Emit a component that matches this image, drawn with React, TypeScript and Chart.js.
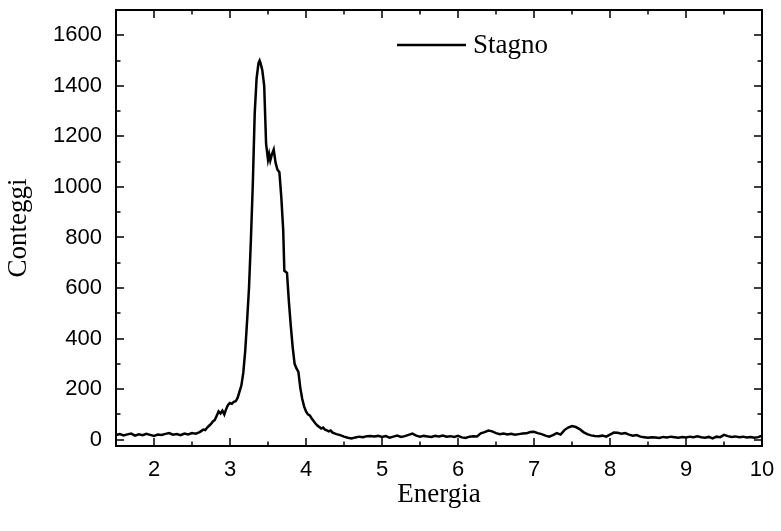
import React, { useEffect, useRef } from 'react';
import { Chart, registerables } from 'chart.js';

Chart.register(...registerables);

const seriesLabel = 'Stagno';
const xTitle = 'Energia';
const yTitle = 'Conteggi';

const xTicks = [2, 3, 4, 5, 6, 7, 8, 9, 10];
const xMinorTicks = [1.5, 2.5, 3.5, 4.5, 5.5, 6.5, 7.5, 8.5, 9.5];
const yTicks = [0, 200, 400, 600, 800, 1000, 1200, 1400, 1600];
const yMinorTicks = [100, 300, 500, 700, 900, 1100, 1300, 1500];

const energy = [
  1.5, 1.55, 1.6, 1.65, 1.7, 1.75, 1.8, 1.85, 1.9, 1.95,
  2.0, 2.05, 2.1, 2.15, 2.2, 2.25, 2.3, 2.35, 2.4, 2.45,
  2.5, 2.55,
  2.6, 2.625, 2.65, 2.675, 2.7, 2.725, 2.75, 2.775, 2.8, 2.825,
  2.85, 2.875, 2.9, 2.925, 2.95, 2.975, 3.0, 3.025, 3.05, 3.075,
  3.1, 3.125, 3.15, 3.175, 3.2, 3.225, 3.25, 3.275, 3.3, 3.325,
  3.35, 3.375, 3.39, 3.4, 3.425, 3.45, 3.475, 3.5, 3.515, 3.53,
  3.55, 3.575, 3.6, 3.625, 3.65, 3.675, 3.7, 3.715, 3.75, 3.775,
  3.8, 3.825, 3.85, 3.875, 3.9, 3.925, 3.95, 3.975, 4.0, 4.025,
  4.05, 4.075, 4.1, 4.125, 4.15, 4.175, 4.2, 4.225, 4.25, 4.275,
  4.3, 4.325, 4.35, 4.375, 4.4,
  4.45, 4.5, 4.55, 4.6, 4.65, 4.7, 4.75, 4.8, 4.85, 4.9,
  4.95, 5.0, 5.05, 5.1, 5.15, 5.2, 5.25, 5.3, 5.35, 5.4,
  5.45, 5.5, 5.55, 5.6, 5.65, 5.7, 5.75, 5.8, 5.85, 5.9,
  5.95, 6.0, 6.05, 6.1, 6.15, 6.2, 6.25, 6.3, 6.35, 6.4,
  6.45, 6.5, 6.55, 6.6, 6.65, 6.7, 6.75, 6.8, 6.85, 6.9,
  6.95, 7.0, 7.05, 7.1, 7.15, 7.2, 7.25, 7.3, 7.35, 7.4,
  7.45, 7.5, 7.55, 7.6, 7.65, 7.7, 7.75, 7.8, 7.85, 7.9,
  7.95, 8.0, 8.05, 8.1, 8.15, 8.2, 8.25, 8.3, 8.35, 8.4,
  8.45, 8.5, 8.55, 8.6, 8.65, 8.7, 8.75, 8.8, 8.85, 8.9,
  8.95, 9.0, 9.05, 9.1, 9.15, 9.2, 9.25, 9.3, 9.35, 9.4,
  9.45, 9.5, 9.55, 9.6, 9.65, 9.7, 9.75, 9.8, 9.85, 9.9,
  9.95, 10.0,
];

const counts = [
  18, 22, 17, 21, 24, 16, 21, 18, 23, 19,
  15, 20, 19, 23, 26, 20, 22, 18, 24, 21,
  26, 24,
  30, 35, 40, 38, 48, 55, 62, 72, 78, 95,
  112, 104, 115, 100, 122, 138, 145, 142, 150, 152,
  165, 190, 215, 265, 350, 470, 600, 790, 1010, 1290,
  1430, 1490, 1500, 1492, 1462, 1400, 1170, 1108, 1130, 1105,
  1128, 1148, 1095, 1068, 1058, 960, 830, 668, 660, 545,
  450, 365, 300, 282, 268, 205, 162, 132, 112, 100,
  96, 84, 74, 64, 56, 50, 44, 48, 40, 37,
  33, 36, 28, 25, 22,
  18, 12, 8, 5, 9, 12, 10, 14, 15, 13,
  15, 11, 14, 8, 12, 16, 11, 14, 19, 24,
  16, 12, 15, 13, 11, 15, 13, 16, 12, 14,
  11, 15, 9, 7, 12, 14, 13, 25, 30, 36,
  33, 26, 22, 24, 21, 23, 20, 22, 24, 25,
  30, 31, 26, 22, 16, 12, 18, 26, 20, 38,
  48, 54, 50, 42, 30, 22, 17, 15, 14, 16,
  12, 20, 28, 27, 24, 26, 20, 16, 18, 12,
  10, 8, 10, 9, 7, 11, 9, 12, 10, 8,
  11, 9, 12, 10, 13, 10, 8, 11, 5, 12,
  10, 19, 14, 11, 13, 10, 12, 9, 11, 8,
  10, 16,
];

const W = 781;
const H = 531;

const framePlugin = {
  id: 'frameTicks',
  afterDraw(chart: any) {
    const { ctx, chartArea: a, scales } = chart;
    const xs = scales.x;
    const ys = scales.y;
    ctx.save();
    ctx.strokeStyle = '#000';
    ctx.lineWidth = 2;
    ctx.strokeRect(a.left, a.top, a.right - a.left, a.bottom - a.top);
    ctx.lineWidth = 1.5;
    const major = 8;
    const minor = 4.5;
    ctx.beginPath();
    const xt = (v: number, len: number) => {
      const px = Math.round(xs.getPixelForValue(v));
      ctx.moveTo(px, a.bottom);
      ctx.lineTo(px, a.bottom - len);
      ctx.moveTo(px, a.top);
      ctx.lineTo(px, a.top + len);
    };
    const yt = (v: number, len: number) => {
      const py = Math.round(ys.getPixelForValue(v));
      ctx.moveTo(a.left, py);
      ctx.lineTo(a.left + len, py);
      ctx.moveTo(a.right, py);
      ctx.lineTo(a.right - len, py);
    };
    xTicks.forEach((v) => xt(v, major));
    xMinorTicks.forEach((v) => xt(v, minor));
    yTicks.forEach((v) => yt(v, major));
    yMinorTicks.forEach((v) => yt(v, minor));
    ctx.stroke();

    // legend
    const ds = chart.data.datasets[0];
    const ly = 45;
    ctx.beginPath();
    ctx.lineWidth = 2.4;
    ctx.moveTo(397, ly);
    ctx.lineTo(466, ly);
    ctx.stroke();
    ctx.fillStyle = '#000';
    ctx.font = '27px "Liberation Serif", "Times New Roman", serif';
    ctx.textBaseline = 'middle';
    ctx.textAlign = 'left';
    ctx.fillText(ds.label, 473, ly + 1);
    ctx.restore();
  },
};

export default function App() {
  const ref = useRef<HTMLCanvasElement>(null);
  useEffect(() => {
    if (!ref.current) return;
    const tickFont = { family: '"Liberation Sans", Arial, sans-serif', size: 22 };
    const titleFont = { family: '"Liberation Serif", "Times New Roman", serif', size: 27 };
    const chart = new Chart(ref.current, {
      type: 'line',
      data: {
        datasets: [
          {
            label: seriesLabel,
            data: energy.map((e, i) => ({ x: e, y: counts[i] })),
            borderColor: '#000',
            borderWidth: 2.5,
            pointRadius: 0,
            tension: 0,
            fill: false,
          },
        ],
      },
      options: {
        responsive: false,
        animation: false,
        devicePixelRatio: 1,
        layout: { padding: { top: 10, right: 19, left: 0, bottom: 0 } },
        plugins: { legend: { display: false }, tooltip: { enabled: false } },
        scales: {
          x: {
            type: 'linear',
            min: 1.5,
            max: 10,
            grid: { display: false, drawTicks: false },
            border: { display: false },
            afterBuildTicks: (s: any) => {
              s.ticks = xTicks.map((v) => ({ value: v }));
            },
            afterFit: (s: any) => {
              s.height = 85;
              s.paddingLeft = 0;
              s.paddingRight = 0;
            },
            ticks: {
              font: tickFont,
              color: '#000',
              padding: 11,
              maxRotation: 0,
              autoSkip: false,
              callback: (v: any) => String(v),
            },
            title: { display: true, text: xTitle, font: titleFont, color: '#000', padding: { top: 0, bottom: 20 } },
          },
          y: {
            type: 'linear',
            min: -25,
            max: 1700,
            grid: { display: false, drawTicks: false },
            border: { display: false },
            afterBuildTicks: (s: any) => {
              s.ticks = yTicks.map((v) => ({ value: v }));
            },
            afterFit: (s: any) => {
              s.width = 116;
              s.paddingTop = 0;
              s.paddingBottom = 0;
            },
            ticks: {
              font: tickFont,
              color: '#000',
              padding: 14,
              autoSkip: false,
              callback: (v: any) => String(v),
            },
            title: { display: true, text: yTitle, font: titleFont, color: '#000', padding: { top: 3, bottom: 0 } },
          },
        },
      },
      plugins: [framePlugin],
    } as any);
    return () => chart.destroy();
  }, []);
  return (
    <div style={{ position: 'absolute', left: 0, top: 0, width: W, height: H, background: '#fff' }}>
      <canvas ref={ref} width={W} height={H} style={{ width: W, height: H, display: 'block' }} />
    </div>
  );
}
